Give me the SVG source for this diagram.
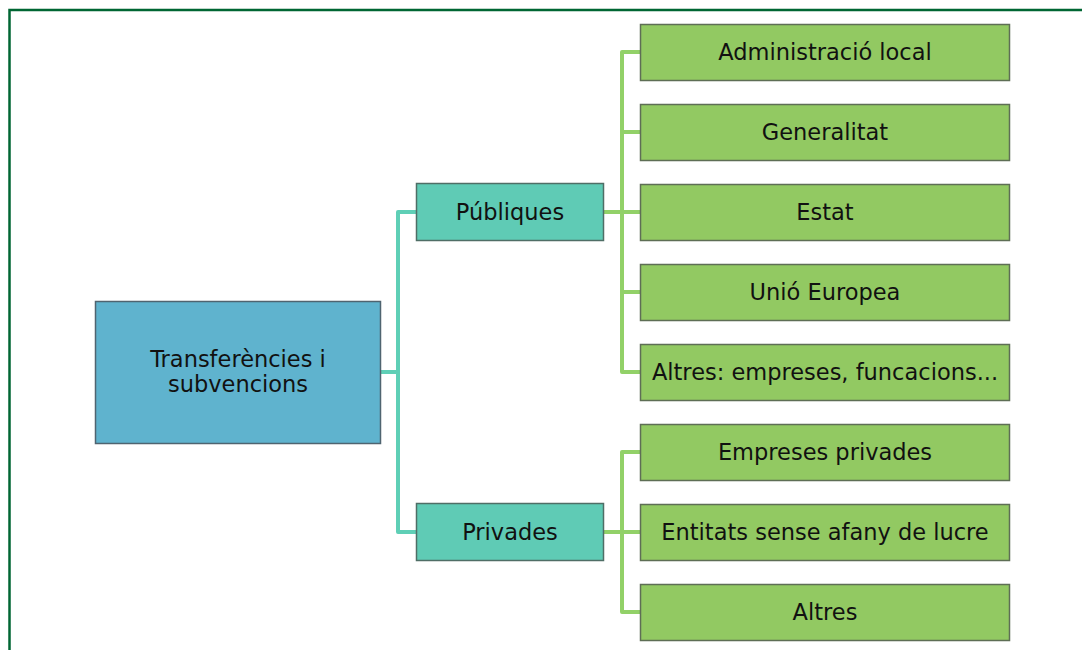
<svg xmlns="http://www.w3.org/2000/svg" width="1082" height="650" viewBox="0 0 1082 650">
<style>
.t{font-family:"DejaVu Sans","Liberation Sans",sans-serif;font-size:22.5px;fill:#111;text-anchor:middle;dominant-baseline:central}
.g{fill:#92C962;stroke:#5E6E55;stroke-width:1.5}
.c{fill:#5FCBB5;stroke:#4F6E66;stroke-width:1.5}
.r{fill:#5FB3CE;stroke:#4F6470;stroke-width:1.5}
.lt{fill:none;stroke:#5FCFB6;stroke-width:4;stroke-linejoin:round}
.lg{fill:none;stroke:#92D168;stroke-width:4;stroke-linejoin:round}
</style>
<rect width="1082" height="650" fill="#fff"/>
<path d="M9.5,650 V10 H1082" fill="none" stroke="#006633" stroke-width="2.5"/>
<g id="connectors">
<path class="lt" d="M380,372 H398 M416,212 H398 V532 H416"/>
<path class="lg" d="M603,212 H622 M640,52 H622 V372 H640 M622,132 H640 M622,212 H640 M622,292 H640"/>
<path class="lg" d="M603,532 H622 M640,452 H622 V612 H640 M622,532 H640"/>
</g>
<g id="root"><rect class="r" x="95.5" y="301.5" width="285" height="142"/><text class="t" x="238" y="359">Transferències i</text><text class="t" x="238" y="384">subvencions</text></g>
<g id="publiques"><rect class="c" x="416.5" y="183.5" width="187" height="57"/><text class="t" x="510" y="212">Públiques</text></g>
<g id="privades"><rect class="c" x="416.5" y="503.5" width="187" height="57"/><text class="t" x="510" y="532">Privades</text></g>
<g id="admin"><rect class="g" x="640.5" y="24.5" width="369" height="56"/><text class="t" x="825" y="52">Administració local</text></g>
<g id="generalitat"><rect class="g" x="640.5" y="104.5" width="369" height="56"/><text class="t" x="825" y="132">Generalitat</text></g>
<g id="estat"><rect class="g" x="640.5" y="184.5" width="369" height="56"/><text class="t" x="825" y="212">Estat</text></g>
<g id="ue"><rect class="g" x="640.5" y="264.5" width="369" height="56"/><text class="t" x="825" y="292">Unió Europea</text></g>
<g id="altres1"><rect class="g" x="640.5" y="344.5" width="369" height="56"/><text class="t" x="825" y="372">Altres: empreses, funcacions...</text></g>
<g id="empreses"><rect class="g" x="640.5" y="424.5" width="369" height="56"/><text class="t" x="825" y="452">Empreses privades</text></g>
<g id="entitats"><rect class="g" x="640.5" y="504.5" width="369" height="56"/><text class="t" x="825" y="532">Entitats sense afany de lucre</text></g>
<g id="altres2"><rect class="g" x="640.5" y="584.5" width="369" height="56"/><text class="t" x="825" y="612">Altres</text></g>
</svg>
